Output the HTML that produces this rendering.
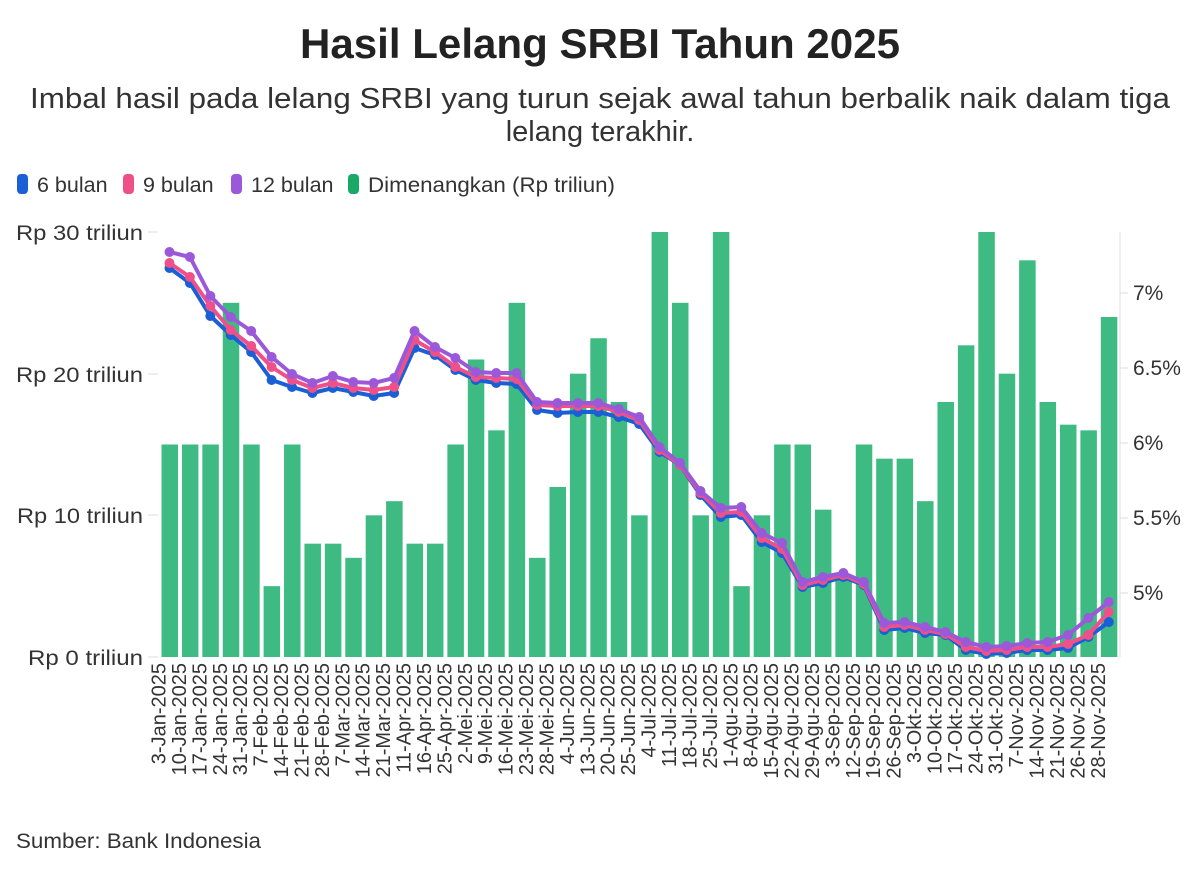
<!DOCTYPE html>
<html><head><meta charset="utf-8"><style>
body{margin:0;background:#fff;width:1200px;height:870px;overflow:hidden;font-family:"Liberation Sans",sans-serif;}
</style></head><body>
<svg width="1200" height="870" xmlns="http://www.w3.org/2000/svg" font-family="Liberation Sans, sans-serif">
<text x="600" y="58" text-anchor="middle" font-size="42" font-weight="bold" fill="#222" textLength="600" lengthAdjust="spacingAndGlyphs">Hasil Lelang SRBI Tahun 2025</text>
<text x="600" y="108" text-anchor="middle" font-size="29" fill="#333" textLength="1140" lengthAdjust="spacingAndGlyphs">Imbal hasil pada lelang SRBI yang turun sejak awal tahun berbalik naik dalam tiga</text>
<text x="600" y="141" text-anchor="middle" font-size="29" fill="#333">lelang terakhir.</text>
<g font-size="21.5" fill="#333">
<rect x="17" y="174" width="11" height="20" rx="4" fill="#1a5fd6"/><text x="37" y="192">6 bulan</text>
<rect x="123" y="174" width="11" height="20" rx="4" fill="#f0508a"/><text x="143" y="192">9 bulan</text>
<rect x="231" y="174" width="11" height="20" rx="4" fill="#9b59d9"/><text x="251" y="192">12 bulan</text>
<rect x="348" y="174" width="11" height="20" rx="4" fill="#1aa866"/><text x="368" y="192" textLength="247" lengthAdjust="spacingAndGlyphs">Dimenangkan (Rp triliun)</text>
</g>
<g font-size="21" fill="#333" text-anchor="end">
<text x="143" y="240" textLength="127" lengthAdjust="spacingAndGlyphs">Rp 30 triliun</text>
<text x="143" y="382" textLength="127" lengthAdjust="spacingAndGlyphs">Rp 20 triliun</text>
<text x="143" y="523" textLength="126" lengthAdjust="spacingAndGlyphs">Rp 10 triliun</text>
<text x="143" y="665" textLength="115" lengthAdjust="spacingAndGlyphs">Rp 0 triliun</text>
</g>
<g stroke="#ddd" stroke-width="1">
<line x1="148" y1="232" x2="158" y2="232"/><line x1="148" y1="374" x2="158" y2="374"/><line x1="148" y1="515" x2="158" y2="515"/><line x1="148" y1="657" x2="158" y2="657"/>
<line x1="1120" y1="232" x2="1120" y2="657"/>
<line x1="1120" y1="293" x2="1128" y2="293"/><line x1="1120" y1="368" x2="1128" y2="368"/><line x1="1120" y1="443" x2="1128" y2="443"/><line x1="1120" y1="518" x2="1128" y2="518"/><line x1="1120" y1="593" x2="1128" y2="593"/>
</g>
<g font-size="21" fill="#333">
<text x="1133" y="300">7%</text><text x="1133" y="375">6.5%</text><text x="1133" y="450">6%</text><text x="1133" y="525">5.5%</text><text x="1133" y="600">5%</text>
</g>
<g id="bars" fill="#3dbb82"></g>
<g id="lines"></g>
<g id="xl" font-size="20" fill="#333"></g>
<text x="16" y="848" font-size="21" fill="#333" textLength="245" lengthAdjust="spacingAndGlyphs">Sumber: Bank Indonesia</text>
</svg>
<script>
var bars=[15,15,15,25,15,5,15,8,8,7,10,11,8,8,15,21,16,25,7,12,20,22.5,18,10,30,25,10,30,5,10,15,15,10.4,5.5,15,14,14,11,18,22,30,20,28,18,16.4,16,24];
var labels=["3-Jan-2025","10-Jan-2025","17-Jan-2025","24-Jan-2025","31-Jan-2025","7-Feb-2025","14-Feb-2025","21-Feb-2025","28-Feb-2025","7-Mar-2025","14-Mar-2025","21-Mar-2025","11-Apr-2025","16-Apr-2025","25-Apr-2025","2-Mei-2025","9-Mei-2025","16-Mei-2025","23-Mei-2025","28-Mei-2025","4-Jun-2025","13-Jun-2025","20-Jun-2025","25-Jun-2025","4-Jul-2025","11-Jul-2025","18-Jul-2025","25-Jul-2025","1-Agu-2025","8-Agu-2025","15-Agu-2025","22-Agu-2025","29-Agu-2025","3-Sep-2025","12-Sep-2025","19-Sep-2025","26-Sep-2025","3-Okt-2025","10-Okt-2025","17-Okt-2025","24-Okt-2025","31-Okt-2025","7-Nov-2025","14-Nov-2025","21-Nov-2025","26-Nov-2025","28-Nov-2025"];
var blue=[268,283,316,335,352,380,387,393,388,392,396,393,348,355,370,380,383,384,410,413,412,412,417,424,452,465,495,517,515,542,553,587,583,577,585,630,628,633,635,650,654,653,650,650,648,637,622];
var pink=[263,277,306,330,346,367,380,388,383,388,390,387,340,352,367,377,378,379,405,406,406,406,412,420,450,465,493,513,512,538,549,585,580,575,584,627,625,630,634,647,651,650,647,647,644,635,612];
var purp=[252,257,296,317,331,357,374,383,376,382,383,378,331,347,358,372,373,373,402,403,403,403,409,417,447,463,491,508,507,533,543,582,577,573,582,623,622,627,632,642,647,646,643,642,635,618,602];
var NS="http://www.w3.org/2000/svg";
function el(t,a,p){var e=document.createElementNS(NS,t);for(var k in a)e.setAttribute(k,a[k]);p.appendChild(e);return e;}
var B=document.getElementById("bars"),L=document.getElementById("lines"),X=document.getElementById("xl");
function cx(i){return 169.5+20.42*i;}
bars.forEach(function(v,i){var h=v*14.167;el("rect",{x:cx(i)-8,y:657-h,width:16.5,height:h},B);});
[[blue,"#1a5fd6"],[pink,"#f0508a"],[purp,"#9b59d9"]].forEach(function(s){
 var pts=s[0].map(function(y,i){return cx(i)+","+y;}).join(" ");
 el("polyline",{points:pts,fill:"none",stroke:s[1],"stroke-width":4,"stroke-linejoin":"round"},L);
 s[0].forEach(function(y,i){el("circle",{cx:cx(i),cy:y,r:5,fill:s[1]},L);});
});
labels.forEach(function(t,i){var x=cx(i)-4;var e=el("text",{x:x,y:663,transform:"rotate(-90 "+x+" 663)","text-anchor":"end"},X);e.textContent=t;});
</script>
</body></html>
